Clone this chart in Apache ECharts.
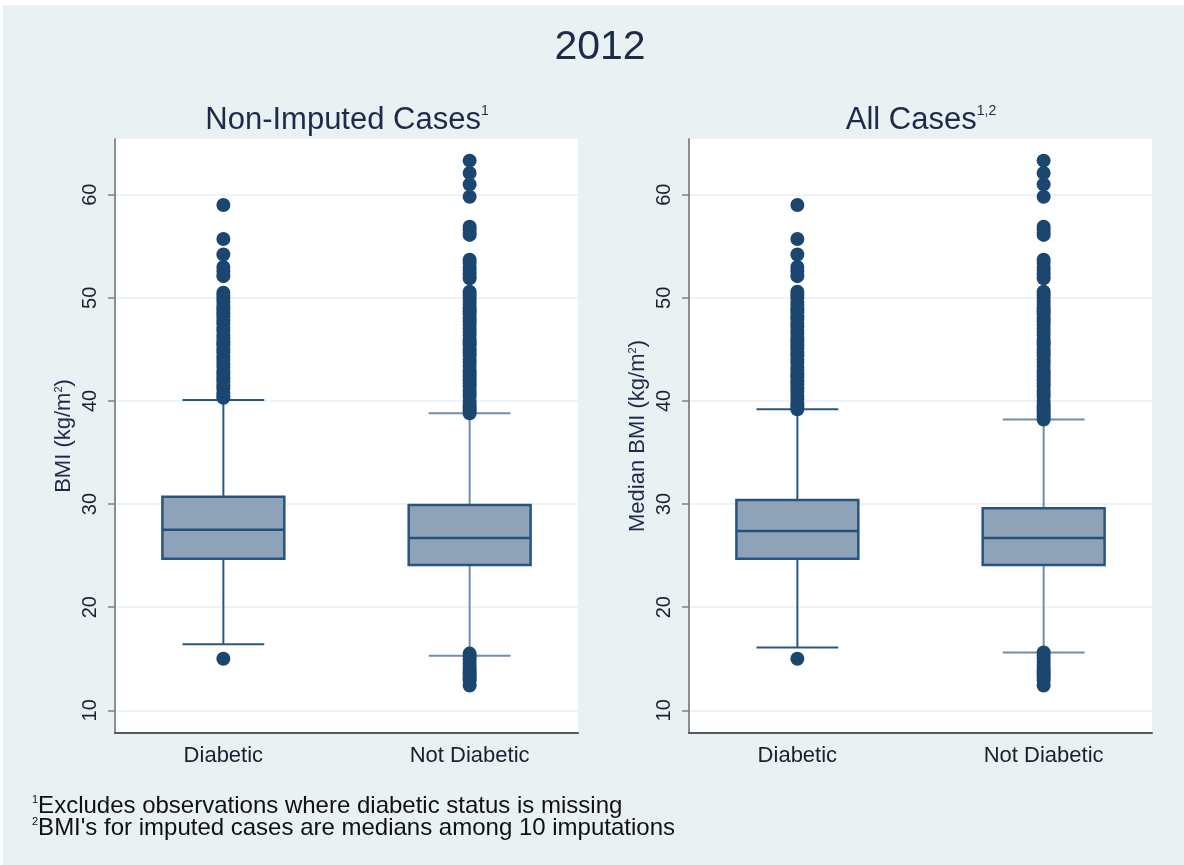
<!DOCTYPE html>
<html>
<head>
<meta charset="utf-8">
<script src="https://cdn.jsdelivr.net/npm/echarts@6/dist/echarts.min.js"></script>
<style>
  html, body { margin: 0; padding: 0; background: #fff; }
  #main { width: 1184px; height: 865px; }
</style>
</head>
<body>
<div id="main"></div>
<script>
const categories = ['Diabetic', 'Not Diabetic'];
const yTicks = [10, 20, 30, 40, 50, 60];

// [lower whisker, Q1, median, Q3, upper whisker]
const nonImputedBoxes = [
  [16.4, 24.7, 27.5, 30.7, 40.1],
  [15.3, 24.1, 26.7, 29.9, 38.8]
];
const allCasesBoxes = [
  [16.1, 24.7, 27.4, 30.4, 39.2],
  [15.6, 24.1, 26.7, 29.6, 38.2]
];

// outside values
const nonImputedDiabeticOut = [59.0, 55.7, 54.2, 53.0, 52.6, 52.1, 50.5, 50.2, 49.9, 49.6, 49.2, 48.9, 48.5, 48.2,
  47.8, 47.5, 47.1, 46.8, 46.4, 46.1, 45.7, 45.4, 45.0, 44.7, 44.3, 44.0, 43.6, 43.3, 42.9, 42.6, 42.2, 41.9,
  41.5, 41.2, 40.8, 40.5, 40.3, 15.0];
const nonImputedNotDiabeticOut = [63.3, 62.1, 61.0, 59.8, 56.9, 56.6, 56.3, 56.1, 53.7, 53.4, 53.0, 52.7, 52.3, 51.9,
  50.6, 50.3, 50.0, 49.7, 49.4, 49.0, 48.7, 48.4, 48.0, 47.7, 47.4, 47.0, 46.7, 46.4, 46.0, 45.7, 45.4, 45.0,
  44.7, 44.4, 44.0, 43.7, 43.4, 43.0, 42.7, 42.4, 42.0, 41.7, 41.4, 41.0, 40.7, 40.4, 40.0, 39.7, 39.4, 39.1, 38.8,
  15.5, 15.2, 14.9, 14.6, 14.3, 14.0, 13.7, 13.4, 13.1, 12.9, 12.4];
const allDiabeticOut = [59.0, 55.7, 54.2, 53.0, 52.6, 52.1, 50.6, 50.3, 50.0, 49.6, 49.3, 48.9, 48.6, 48.2, 47.9,
  47.5, 47.2, 46.8, 46.5, 46.1, 45.8, 45.4, 45.1, 44.7, 44.4, 44.0, 43.7, 43.3, 43.0, 42.6, 42.3, 41.9, 41.6,
  41.2, 40.9, 40.5, 40.2, 39.8, 39.5, 39.2, 15.0];
const allNotDiabeticOut = [63.3, 62.1, 61.0, 59.8, 56.9, 56.6, 56.3, 56.1, 53.7, 53.4, 53.0, 52.7, 52.3, 51.9,
  50.6, 50.3, 50.0, 49.7, 49.4, 49.0, 48.7, 48.4, 48.0, 47.7, 47.4, 47.0, 46.7, 46.4, 46.0, 45.7, 45.4, 45.0,
  44.7, 44.4, 44.0, 43.7, 43.4, 43.0, 42.7, 42.4, 42.0, 41.7, 41.4, 41.0, 40.7, 40.4, 40.0, 39.7, 39.4, 39.1,
  38.8, 38.5, 38.2, 15.6, 15.3, 15.0, 14.7, 14.4, 14.1, 13.8, 13.5, 13.2, 12.9, 12.4];

const TEXT = '#1e2a4a';
const FONT = '"Liberation Sans", Arial, sans-serif';
const BOX_HALF = 0.2475;   // half box width, x units
const CAP_HALF = 0.166;
const whiskerColors = ['#2d5781', '#6f8dac'];

function boxData(boxes) {
  return boxes.map((b, i) => [i].concat(b));
}
function outData(diab, notDiab) {
  return diab.map(v => [0, v]).concat(notDiab.map(v => [1, v]));
}

function renderBox(params, api) {
  const c = api.value(0);
  const lo = api.coord([c, api.value(1)]);
  const q1 = api.coord([c, api.value(2)]);
  const med = api.coord([c, api.value(3)]);
  const q3 = api.coord([c, api.value(4)]);
  const hi = api.coord([c, api.value(5)]);
  const bl = api.coord([c - BOX_HALF, 0])[0];
  const br = api.coord([c + BOX_HALF, 0])[0];
  const cl = api.coord([c - CAP_HALF, 0])[0];
  const cr = api.coord([c + CAP_HALF, 0])[0];
  const wc = whiskerColors[c];
  const ws = { stroke: wc, lineWidth: 2 };
  return {
    type: 'group',
    children: [
      { type: 'line', shape: { x1: q3[0], y1: q3[1], x2: hi[0], y2: hi[1] }, style: ws },
      { type: 'line', shape: { x1: lo[0], y1: lo[1], x2: q1[0], y2: q1[1] }, style: ws },
      { type: 'line', shape: { x1: cl, y1: hi[1], x2: cr, y2: hi[1] }, style: ws },
      { type: 'line', shape: { x1: cl, y1: lo[1], x2: cr, y2: lo[1] }, style: ws },
      { type: 'rect', shape: { x: bl, y: q3[1], width: br - bl, height: q1[1] - q3[1] },
        style: { fill: '#8ea3b8', stroke: '#2a5480', lineWidth: 2.5 } },
      { type: 'line', shape: { x1: bl, y1: med[1], x2: br, y2: med[1] },
        style: { stroke: '#24507c', lineWidth: 2.5 } }
    ]
  };
}

function yAxisFor(gridIndex, name) {
  return {
    type: 'value', gridIndex: gridIndex, min: 7.8, max: 65.4,
    name: name, nameLocation: 'middle', nameGap: 40,
    nameTextStyle: {
      fontSize: 22, color: TEXT, fontFamily: FONT,
      rich: { sup: { fontSize: 11, verticalAlign: 'top', color: TEXT, fontFamily: FONT } }
    },
    axisLine: { show: true, onZero: false, lineStyle: { color: '#8a8f94', width: 2 } },
    axisTick: { show: true, length: 7, customValues: yTicks, lineStyle: { color: '#7d8388', width: 1.5 } },
    axisLabel: { customValues: yTicks, rotate: 90, margin: 15, fontSize: 20, color: '#1c1f2e', fontFamily: FONT },
    splitLine: { show: true, lineStyle: { color: '#e8f0f3', width: 1.5 } }
  };
}

function xAxisFor(gridIndex) {
  return {
    type: 'value', gridIndex: gridIndex, min: -0.44, max: 1.44,
    axisLine: { show: true, onZero: false, lineStyle: { color: '#555a60', width: 2 } },
    axisTick: { show: false },
    splitLine: { show: false },
    axisLabel: {
      customValues: [0, 1], margin: 12, fontSize: 22, color: '#1c1f2e', fontFamily: FONT,
      formatter: v => categories[Math.round(v)]
    }
  };
}

const chart = echarts.init(document.getElementById('main'));
chart.setOption({
  backgroundColor: '#e9f1f3',
  animation: false,
  textStyle: { fontFamily: FONT },
  grid: [
    { left: 115, top: 139, width: 463, height: 594, show: true, backgroundColor: '#fff', borderWidth: 0 },
    { left: 689, top: 139, width: 463, height: 594, show: true, backgroundColor: '#fff', borderWidth: 0 }
  ],
  xAxis: [xAxisFor(0), xAxisFor(1)],
  yAxis: [yAxisFor(0, 'BMI (kg/m{sup|2})'), yAxisFor(1, 'Median BMI (kg/m{sup|2})')],
  series: [
    { type: 'custom', xAxisIndex: 0, yAxisIndex: 0, renderItem: renderBox,
      encode: { x: 0, y: [1, 2, 3, 4, 5] }, data: boxData(nonImputedBoxes), z: 2 },
    { type: 'custom', xAxisIndex: 1, yAxisIndex: 1, renderItem: renderBox,
      encode: { x: 0, y: [1, 2, 3, 4, 5] }, data: boxData(allCasesBoxes), z: 2 },
    { type: 'scatter', xAxisIndex: 0, yAxisIndex: 0, symbolSize: 14, z: 3,
      itemStyle: { color: '#1b4670', opacity: 1 }, data: outData(nonImputedDiabeticOut, nonImputedNotDiabeticOut) },
    { type: 'scatter', xAxisIndex: 1, yAxisIndex: 1, symbolSize: 14, z: 3,
      itemStyle: { color: '#1b4670', opacity: 1 }, data: outData(allDiabeticOut, allNotDiabeticOut) }
  ],
  graphic: [
    { type: 'rect', left: 0, top: 0, shape: { width: 1184, height: 5 }, style: { fill: '#fff' }, z: -1 },
    { type: 'rect', left: 0, top: 0, shape: { width: 3, height: 865 }, style: { fill: '#fff' }, z: -1 },
    { type: 'text', x: 600, y: 48, style: { text: '2012', font: '41px ' + FONT, fill: TEXT,
      textAlign: 'center', textVerticalAlign: 'middle' } },
    { type: 'text', x: 347, y: 120, style: { text: 'Non-Imputed Cases{sup|1}', fontSize: 31, fontFamily: FONT, fill: TEXT,
      textAlign: 'center', textVerticalAlign: 'middle',
      rich: { sup: { fontSize: 14, verticalAlign: 'top', fill: TEXT, fontFamily: FONT } } } },
    { type: 'text', x: 921, y: 120, style: { text: 'All Cases{sup|1,2}', fontSize: 31, fontFamily: FONT, fill: TEXT,
      textAlign: 'center', textVerticalAlign: 'middle',
      rich: { sup: { fontSize: 14, verticalAlign: 'top', fill: TEXT, fontFamily: FONT } } } },
    { type: 'text', x: 32, y: 806, style: { text: '{sup|1}Excludes observations where diabetic status is missing',
      fontSize: 24, fontFamily: FONT, fill: '#111', textVerticalAlign: 'middle',
      rich: { sup: { fontSize: 11, verticalAlign: 'top', fill: '#111', fontFamily: FONT } } } },
    { type: 'text', x: 32, y: 828, style: { text: '{sup|2}BMI\'s for imputed cases are medians among 10 imputations',
      fontSize: 24, fontFamily: FONT, fill: '#111', textVerticalAlign: 'middle',
      rich: { sup: { fontSize: 11, verticalAlign: 'top', fill: '#111', fontFamily: FONT } } } }
  ]
});
</script>
</body>
</html>
